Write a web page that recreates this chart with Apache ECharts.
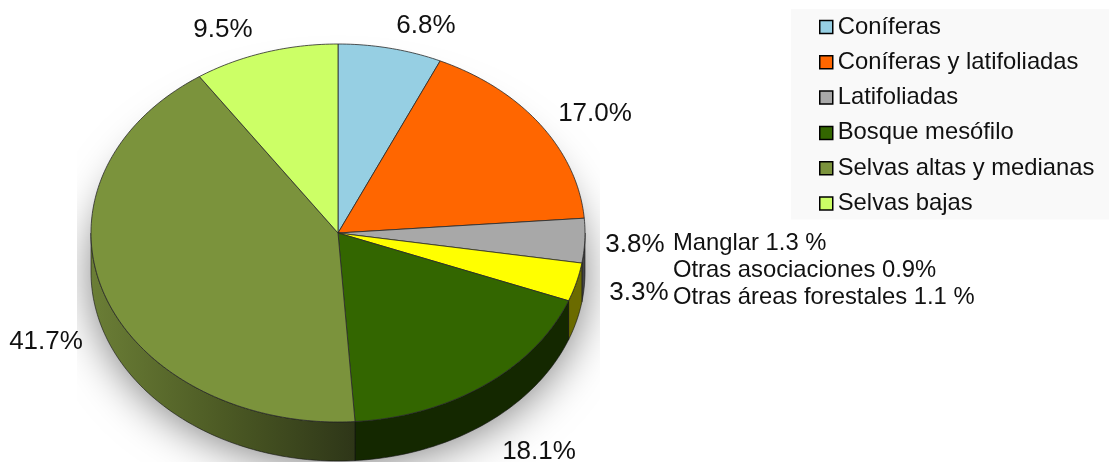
<!DOCTYPE html>
<html>
<head>
<meta charset="utf-8">
<style>
  html, body { margin: 0; padding: 0; background: #fff; }
  #chart { width: 1109px; height: 462px; }
</style>
<script src="https://cdn.jsdelivr.net/npm/echarts@6/dist/echarts.min.js"></script>
</head>
<body>
<div id="chart"></div>
<script>
const categories = ["Coníferas", "Coníferas y latifoliadas", "Latifoliadas", "Otros", "Bosque mesófilo", "Selvas altas y medianas", "Selvas bajas"];
const percents = [6.8, 17.0, 3.8, 3.3, 18.1, 41.7, 9.5];
const legendNames = ["Coníferas", "Coníferas y latifoliadas", "Latifoliadas", "Bosque mesófilo", "Selvas altas y medianas", "Selvas bajas"];
const notes = ["Manglar 1.3 %", "Otras asociaciones 0.9%", "Otras áreas forestales 1.1 %"];

const topColors = ["#96cfe3", "#ff6600", "#a8a8a8", "#ffff00", "#336600", "#7b933c", "#ccff66"];
const wallColors = ["#4b6771", "#803300", "#444444", "#6b6b00", "#142800", null, "#667f33"];
const labelAt = [[426, 26], [595, 114], [635, 245], [639, 293], [539, 452], [46, 342], [223, 30]];

const font = '"Liberation Sans", Arial, sans-serif';
const cx = 338, cy = 233, rx = 247, ry = 189, depth = 39;
const total = percents.reduce((a, b) => a + b, 0);

// angles run clockwise from 12 o'clock, same as the original 3D pie
const pointAt = (deg, dy) => {
  const t = deg * Math.PI / 180;
  return [cx + rx * Math.sin(t), cy - ry * Math.cos(t) + (dy || 0)];
};

const arcPoints = (from, to, dy) => {
  const pts = [];
  const steps = Math.max(2, Math.ceil(to - from));
  for (let i = 0; i <= steps; i++) {
    pts.push(pointAt(from + (to - from) * i / steps, dy));
  }
  return pts;
};

const oliveWall = new echarts.graphic.LinearGradient(91, 0, 355, 0, [
  {offset: 0, color: "#6b7e36"},
  {offset: 0.5, color: "#4c5a24"},
  {offset: 1, color: "#2e3618"},
], true);

const sliceSeries = categories.map((name, i) => {
  const before = percents.slice(0, i).reduce((a, b) => a + b, 0);
  return {
    name: name,
    type: "custom",
    coordinateSystem: "none",
    silent: true,
    itemStyle: {color: topColors[i]},
    data: [percents[i]],
    renderItem: (params, api) => {
      const from = before / total * 360;
      const to = from + api.value(0) / total * 360;
      const children = [];

      const wallFrom = Math.max(from, 90);
      const wallTo = Math.min(to, 270);
      if (wallFrom < wallTo) {
        children.push({
          type: "polygon",
          shape: {points: arcPoints(wallFrom, wallTo, 0).concat(arcPoints(wallFrom, wallTo, depth).reverse())},
          style: {fill: wallColors[i] || oliveWall, stroke: "#111", lineWidth: 0.6},
        });
      }
      children.push({
        type: "polygon",
        shape: {points: [[cx, cy]].concat(arcPoints(from, to, 0))},
        style: {fill: topColors[i], stroke: "#2a2a2a", lineWidth: 0.8},
      });
      children.push({
        type: "text",
        style: {
          x: labelAt[i][0],
          y: labelAt[i][1],
          text: api.value(0).toFixed(1) + "%",
          font: "26px " + font,
          fill: "#111",
          align: "center",
          verticalAlign: "middle",
        },
      });
      return {type: "group", children: children};
    },
  };
});

const shadowSeries = {
  name: "sombra",
  type: "custom",
  coordinateSystem: "none",
  silent: true,
  data: [0],
  renderItem: () => ({
    type: "polygon",
    shape: {points: arcPoints(0, 360, depth)},
    style: {
      fill: "#bbbbbb",
      shadowColor: "rgba(0,0,0,0.5)",
      shadowBlur: 44,
      shadowOffsetY: 4,
    },
    clipPath: {type: "rect", shape: {x: 77, y: 0, width: 523, height: 462}},
  }),
};

const option = {
  animation: false,
  backgroundColor: "#fff",
  legend: {
    data: legendNames,
    left: 791,
    top: 9,
    orient: "vertical",
    icon: "rect",
    itemWidth: 13,
    itemHeight: 13,
    itemGap: 11.3,
    selectedMode: false,
    backgroundColor: "#f9f9f9",
    padding: [6, 15, 4, 28],
    itemStyle: {borderColor: "#000", borderWidth: 1.5},
    textStyle: {fontFamily: font, fontSize: 23.8, color: "#111", lineHeight: 24},
  },
  graphic: notes.map((text, i) => ({
    type: "text",
    left: 673,
    top: 231 + i * 27,
    style: {text: text, font: "23.8px " + font, fill: "#111"},
  })),
  series: [shadowSeries].concat(sliceSeries),
};

const chart = echarts.init(document.getElementById("chart"));
chart.setOption(option);
</script>
</body>
</html>
